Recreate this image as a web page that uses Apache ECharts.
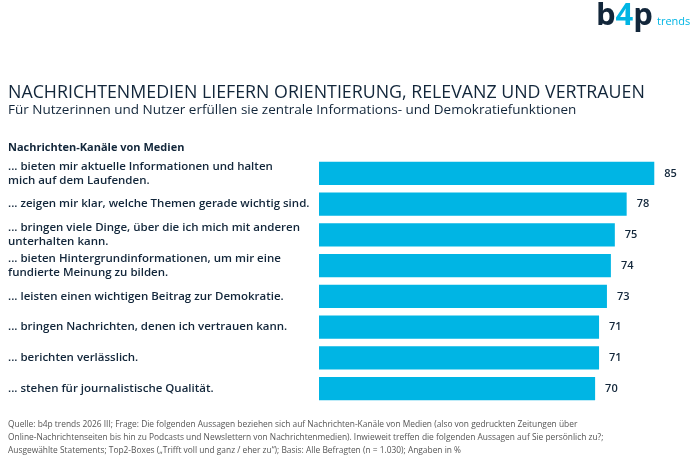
<!DOCTYPE html>
<html>
<head>
<meta charset="utf-8">
<script src="https://cdn.jsdelivr.net/npm/echarts@6/dist/echarts.min.js"></script>
<style>
  html, body { margin: 0; padding: 0; background: #fff; }
  #chart { width: 700px; height: 459px; }
</style>
</head>
<body>
<div id="chart"></div>
<script>
// statements, top to bottom
const statements = [
    '... bieten mir aktuelle Informationen und halten\nmich auf dem Laufenden.',
    '... zeigen mir klar, welche Themen gerade wichtig sind.',
    '... bringen viele Dinge, über die ich mich mit anderen\nunterhalten kann.',
    '... bieten Hintergrundinformationen, um mir eine\nfundierte Meinung zu bilden.',
    '... leisten einen wichtigen Beitrag zur Demokratie.',
    '... bringen Nachrichten, denen ich vertrauen kann.',
    '... berichten verlässlich.',
    '... stehen für journalistische Qualität.'
]
const shares = [85, 78, 75, 74, 73, 71, 71, 70]

const navy = '#12263a'
const cyan = '#00b5e4'
const font = '"Open Sans", sans-serif'

const myChart = echarts.init(document.getElementById('chart'))

myChart.setOption({
    backgroundColor: '#fff',
    animation: false,
    title: [
        {
            text: 'NACHRICHTENMEDIEN LIEFERN ORIENTIERUNG, RELEVANZ UND VERTRAUEN',
            left: 8, top: 84, padding: 0,
            textStyle: { fontFamily: font, fontSize: 17.8, fontWeight: 500, color: navy }
        },
        {
            text: 'Für Nutzerinnen und Nutzer erfüllen sie zentrale Informations- und Demokratiefunktionen',
            left: 8, top: 103, padding: 0,
            textStyle: { fontFamily: font, fontSize: 13.5, fontWeight: 500, color: navy }
        },
        {
            text: 'Nachrichten-Kanäle von Medien',
            left: 8, top: 142, padding: 0,
            textStyle: { fontFamily: font, fontSize: 11, fontWeight: 700, color: navy }
        }
    ],
    graphic: [
        {
            type: 'text', left: 596, top: 1,
            style: {
                text: '{n|b}{c|4}{n|p}',
                rich: {
                    n: { fontFamily: font, fontSize: 31, fontWeight: 700, fill: navy },
                    c: { fontFamily: font, fontSize: 31, fontWeight: 700, fill: cyan }
                }
            }
        },
        {
            type: 'text', left: 657, top: 16,
            style: { text: 'trends', fontFamily: font, fontSize: 11, fill: cyan }
        },
        {
            type: 'text', left: 8, top: 418,
            style: {
                text: 'Quelle: b4p trends 2026 III; Frage: Die folgenden Aussagen beziehen sich auf Nachrichten-Kanäle von Medien (also von gedruckten Zeitungen über\n' +
                    'Online-Nachrichtenseiten bis hin zu Podcasts und Newslettern von Nachrichtenmedien). Inwieweit treffen die folgenden Aussagen auf Sie persönlich zu?;\n' +
                    'Ausgewählte Statements; Top2-Boxes („Trifft voll und ganz / eher zu“); Basis: Alle Befragten (n = 1.030); Angaben in %',
                fontFamily: font, fontSize: 8.4, lineHeight: 13, fill: '#555'
            }
        }
    ],
    grid: { left: 319, right: 26, top: 158, bottom: 55 },
    xAxis: {
        type: 'value', min: 0, max: 90,
        show: false
    },
    yAxis: {
        type: 'category',
        inverse: true,
        data: statements,
        axisLine: { show: false },
        axisTick: { show: false },
        axisLabel: {
            align: 'left',
            margin: 311,
            fontFamily: font,
            fontSize: 11.5,
            fontWeight: 600,
            lineHeight: 14,
            color: navy
        }
    },
    series: [{
        type: 'bar',
        data: shares,
        barCategoryGap: '25%',
        itemStyle: { color: cyan },
        label: {
            show: true,
            position: 'right',
            distance: 10,
            fontFamily: font,
            fontSize: 11,
            fontWeight: 600,
            color: navy
        }
    }]
})
</script>
</body>
</html>
